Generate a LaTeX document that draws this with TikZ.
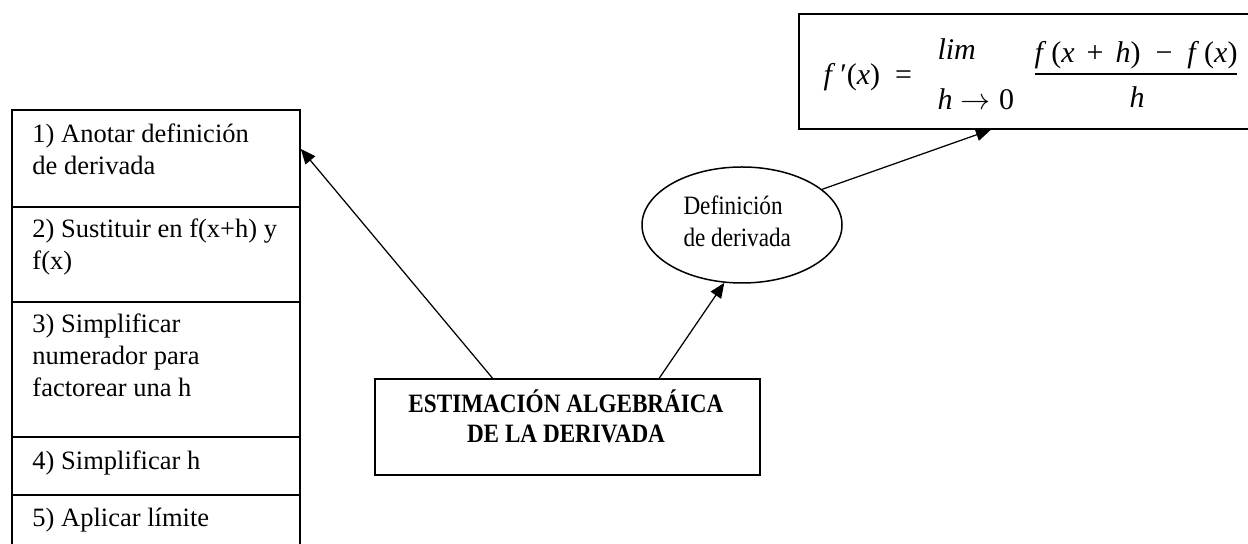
\documentclass[tikz,border=0pt]{standalone}
\usepackage{fontspec}
\usepackage{graphicx}
\setmainfont{Liberation Serif}
\usetikzlibrary{shapes.geometric,arrows.meta}
\newcommand{\hsq}[1]{\scalebox{0.875}[1]{#1}}
\begin{document}
\begin{tikzpicture}[x=0.4pt,y=-0.4pt,
  box/.style={draw,line width=0.7pt,rectangle,inner sep=0pt,anchor=north west,minimum width=115.2pt},
  txt/.style={inner sep=0pt,anchor=base west,align=left,font=\fontsize{10.6}{12.8}\selectfont},
  arr/.style={line width=0.5pt,-{Triangle[length=6pt,width=5pt]}},
  mth/.style={inner sep=0pt,font=\fontsize{12}{14}\selectfont}]
\useasboundingbox (0,0) rectangle (1248,544);
\clip (0,0) rectangle (1248,544);
% left column
\node[box,minimum height=38.8pt] (b1) at (11,109) {};
\node[box,minimum height=38pt] (b2) at (11,206) {};
\node[box,minimum height=54pt] (b3) at (11,301) {};
\node[box,minimum height=23.2pt] (b4) at (11,436) {};
\node[box,minimum height=30pt] (b5) at (11,494) {};
\node[txt] (t1) at (32,175) {1) Anotar definición\\de derivada};
\node[txt] (t2) at (32,270) {2) Sustituir en f(x+h) y\\f(x)};
\node[txt] (t3) at (32,397) {3) Simplificar\\numerador para\\factorear una h};
\node[txt] (t4) at (32,470) {4) Simplificar h};
\node[txt] (t5) at (32,527) {5) Aplicar límite};
% central box
\node[draw,line width=0.7pt,inner sep=0pt,anchor=north west,minimum width=154pt,minimum height=38.4pt] (c) at (374,378) {};
\node[inner sep=0pt,anchor=base,align=center,font=\fontsize{10.6}{12}\selectfont\bfseries] (ct) at (566,443) {\hsq{ESTIMACIÓN ALGEBRÁICA}\\\hsq{DE LA DERIVADA}};
% ellipse
\node[draw,ellipse,line width=0.6pt,inner sep=0pt,minimum width=80pt,minimum height=46.4pt] (e) at (742,225) {};
\node[txt] (et) at (683,247) {\hsq{Definición}\\\hsq{de derivada}};
% formula box
\node[draw,line width=0.7pt,inner sep=0pt,anchor=north west,minimum width=184.8pt,minimum height=46pt] (f) at (798,13) {};
\node[mth,anchor=base west] (f1) at (823,85) {\textit{f}\,′(\textit{x})\hspace{0.5em}=};
\node[mth,anchor=base west] (f2) at (937,60) {\textit{lim}};
\node[mth,anchor=base west] (f3) at (937,110) {\textit{h}$\;\rightarrow\;$0};
\node[mth,anchor=base] (f4) at (1136,63) {\textit{f}\,(\textit{x}\hspace{0.4em}+\hspace{0.4em}\textit{h})\hspace{0.5em}−\hspace{0.5em}\textit{f}\,(\textit{x})};
\node[mth,anchor=base] (f5) at (1137,108) {\textit{h}};
\draw[line width=0.5pt] (1035,74) -- (1237,74);
% arrows
\draw[arr] ([xshift=-30pt]c.north) -- ([yshift=3.8pt]b1.east);
\draw[arr] ([xshift=36.8pt]c.north) -- (e.253);
\draw[arr] (e.24) -- ([xshift=-15.6pt]f.south);
\end{tikzpicture}
\end{document}
